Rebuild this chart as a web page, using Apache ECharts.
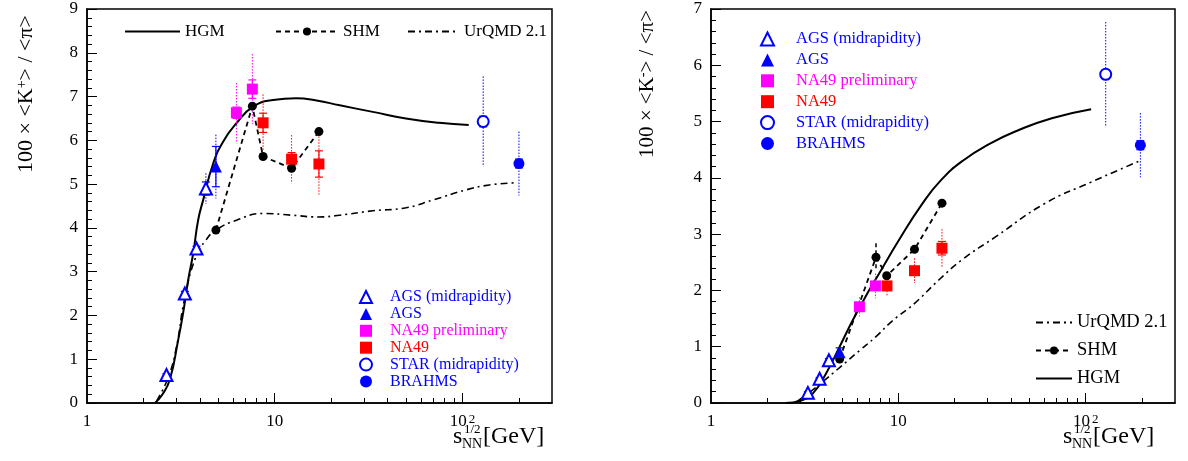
<!DOCTYPE html>
<html><head><meta charset="utf-8">
<script src="https://cdn.jsdelivr.net/npm/echarts@6/dist/echarts.min.js"></script>
<style>html,body{margin:0;padding:0;background:#fff}#c{width:1188px;height:461px}</style>
</head><body><div id="c"></div>
<script>
const FONT = '"Liberation Serif","Times New Roman",serif';

// ---- axis ticks (sqrt(s_NN) in GeV) ----
const xMajorTicks = [10, 100];
const xMinorTicks = [2, 3, 4, 5, 6, 7, 8, 9, 20, 30, 40, 50, 60, 70, 80, 90, 200];
const xLabelValues = [1, 10, 100];

// ---- left panel: 100 x <K+>/<pi> ; rows = [sqrt(s), value, err (solid, capped), sys (dotted)] ----
const kpAgsMid     = [[2.65, 0.64, 0.03, 0.06], [3.32, 2.50, 0.05, 0.10], [3.83, 3.53, 0.05, 0.12], [4.30, 4.90, 0.15, 0.35]];
const kpAgs        = [[4.86, 5.40, 0.46, 0.73]];
const kpNa49Prelim = [[6.25, 6.63, 0.13, 0.68], [7.60, 7.17, 0.21, 0.80]];
const kpNa49       = [[8.67, 6.40, 0.22, 0.65], [12.3, 5.57, 0.15, 0.55], [17.2, 5.46, 0.30, 0.70]];
const kpStar       = [[129, 6.43, 0.12, 1.03]];
const kpBrahms     = [[200, 5.47, 0.10, 0.73]];
const kpShmX = [4.86, 7.60, 8.67, 12.3, 17.2];
const kpShmY = [3.95, 6.78, 5.63, 5.36, 6.20];
const kpHgm = [[2.30, 0.00], [2.50, 0.17], [2.76, 0.53], [3.06, 1.44], [3.25, 2.05], [3.46, 2.81], [3.68, 3.42], [3.91, 4.18], [4.16, 4.64], [4.70, 5.47], [5.31, 5.97], [6.25, 6.39], [7.67, 6.77], [9.8, 6.92], [13.0, 6.96], [16.7, 6.91], [22.2, 6.80], [33.3, 6.65], [50, 6.50], [75, 6.40], [108, 6.35]];
const kpUrqmd = [[2.35, 0.05], [2.70, 0.57], [3.00, 1.29], [3.30, 2.35], [3.80, 3.34], [4.30, 3.72], [4.86, 3.95], [6.3, 4.18], [8.67, 4.33], [12.3, 4.29], [17, 4.25], [22.2, 4.29], [33.3, 4.39], [50, 4.46], [70, 4.64], [105, 4.87], [139, 4.98], [191, 5.03]];

// ---- right panel: 100 x <K->/<pi> ----
const kmAgsMid     = [[3.29, 0.18, 0.02, 0.03], [3.80, 0.43, 0.02, 0.03], [4.26, 0.76, 0.03, 0.05]];
const kmAgs        = [[4.86, 0.90, 0.08, 0.10]];
const kmNa49Prelim = [[6.20, 1.71, 0.03, 0.17], [7.55, 2.08, 0.03, 0.22]];
const kmNa49       = [[8.70, 2.08, 0.03, 0.18], [12.2, 2.35, 0.03, 0.22], [17.1, 2.75, 0.12, 0.34]];
const kmStar       = [[128, 5.84, 0.08, 0.93]];
const kmBrahms     = [[196, 4.58, 0.08, 0.57]];
const kmShmX = [4.86, 7.60, 8.67, 12.2, 17.1];
const kmShmY = [0.78, 2.59, 2.26, 2.73, 3.55];
const kmShmErr = [[7.60, 2.59, 0, 0.25]];
const kmHgm = [[2.50, 0.00], [3.00, 0.04], [3.50, 0.17], [4.12, 0.53], [4.86, 1.00], [5.71, 1.47], [7.01, 2.01], [7.93, 2.31], [10.1, 2.90], [13.5, 3.55], [16.9, 3.96], [22, 4.30], [30.5, 4.60], [44, 4.85], [66, 5.06], [107, 5.22]];
const kmUrqmd = [[2.86, 0.02], [3.3, 0.17], [3.8, 0.33], [4.86, 0.63], [6.2, 0.93], [7.6, 1.18], [9.3, 1.46], [12.3, 1.78], [16.5, 2.19], [22, 2.55], [33, 2.95], [61, 3.55], [108, 3.93], [191, 4.29]];

const BLUE = '#0000ff', MAG = '#ff00ff', RED = '#ff0000';

function errSeries(data, color, xi, yi, dashed) {
  return {
    type: 'custom', xAxisIndex: xi, yAxisIndex: yi, z: 3, silent: true,
    encode: { x: 0, y: 1 },
    data: data,
    renderItem: function (params, api) {
      const x = api.value(0), y = api.value(1), e1 = api.value(2), e2 = api.value(3);
      const t2 = api.coord([x, y + e2]), b2 = api.coord([x, y - e2]);
      const t1 = api.coord([x, y + e1]), b1 = api.coord([x, y - e1]);
      const ch = [];
      ch.push({ type: 'line', shape: { x1: t2[0], y1: t2[1], x2: b2[0], y2: b2[1] },
        style: { stroke: color, lineWidth: dashed ? 1.5 : 1, lineDash: dashed ? [4, 3] : [1.5, 1.5] } });
      if (e1 > 0) {
        const c = 4;
        ch.push({ type: 'line', shape: { x1: t1[0], y1: t1[1], x2: b1[0], y2: b1[1] }, style: { stroke: color, lineWidth: 1.2 } });
        ch.push({ type: 'line', shape: { x1: t1[0] - c, y1: t1[1], x2: t1[0] + c, y2: t1[1] }, style: { stroke: color, lineWidth: 1.2 } });
        ch.push({ type: 'line', shape: { x1: b1[0] - c, y1: b1[1], x2: b1[0] + c, y2: b1[1] }, style: { stroke: color, lineWidth: 1.2 } });
      }
      return { type: 'group', children: ch };
    }
  };
}
function pts(name, data, symbol, size, color, xi, yi) {
  return {
    name: name, type: 'scatter', xAxisIndex: xi, yAxisIndex: yi, z: 5,
    symbol: symbol, symbolSize: size,
    itemStyle: { color: color, borderWidth: 1.5, opacity: 1 },
    data: data.map(r => [r[0], r[1]])
  };
}
function zip(a, b) { return a.map((v, i) => [v, b[i]]); }

function panelSeries(d, xi, yi, sz) {
  const s = [];
  s.push(errSeries(d.agsMid, BLUE, xi, yi));
  s.push(errSeries(d.ags, BLUE, xi, yi));
  s.push(errSeries(d.na49p, MAG, xi, yi));
  s.push(errSeries(d.na49, RED, xi, yi));
  s.push(errSeries(d.star, BLUE, xi, yi));
  s.push(errSeries(d.brahms, BLUE, xi, yi));
  s.push({ name: 'HGM', type: 'line', xAxisIndex: xi, yAxisIndex: yi, z: 2, data: d.hgm, symbol: 'none', smooth: 0.5,
    lineStyle: { color: '#000', width: 2 }, itemStyle: { color: '#000' } });
  s.push({ name: 'UrQMD 2.1', type: 'line', xAxisIndex: xi, yAxisIndex: yi, z: 2, data: d.urqmd, symbol: 'none', smooth: 0.5,
    lineStyle: { color: '#000', width: 1.6, type: [7, 4, 2, 4] }, itemStyle: { color: '#000' } });
  s.push({ name: 'SHM', type: 'line', xAxisIndex: xi, yAxisIndex: yi, z: 4, data: d.shm, symbol: 'circle', symbolSize: 9, showSymbol: true,
    lineStyle: { color: '#000', width: 1.8, type: [5, 4] }, itemStyle: { color: '#000' } });
  if (d.shmErr) s.push(errSeries(d.shmErr, '#000', xi, yi, true));
  s.push(pts('AGS (midrapidity)', d.agsMid, 'emptyTriangle', sz.tri, BLUE, xi, yi));
  s.push(pts('AGS', d.ags, 'triangle', sz.tri, BLUE, xi, yi));
  s.push(pts('NA49 preliminary', d.na49p, 'rect', sz.sq, MAG, xi, yi));
  s.push(pts('NA49', d.na49, 'rect', sz.sq, RED, xi, yi));
  s.push(pts('STAR (midrapidity)', d.star, 'emptyCircle', sz.circ, BLUE, xi, yi));
  s.push(pts('BRAHMS', d.brahms, 'circle', sz.circ, BLUE, xi, yi));
  return s;
}

const series = [].concat(
  panelSeries({ agsMid: kpAgsMid, ags: kpAgs, na49p: kpNa49Prelim, na49: kpNa49, star: kpStar, brahms: kpBrahms,
    hgm: kpHgm, urqmd: kpUrqmd, shm: zip(kpShmX, kpShmY) }, 0, 0, { tri: 12, sq: 11, circ: 11 }),
  panelSeries({ agsMid: kmAgsMid, ags: kmAgs, na49p: kmNa49Prelim, na49: kmNa49, star: kmStar, brahms: kmBrahms,
    hgm: kmHgm, urqmd: kmUrqmd, shm: zip(kmShmX, kmShmY), shmErr: kmShmErr }, 2, 1, { tri: 12, sq: 11, circ: 11 })
);

function xAxes(gi) {
  return [{
    type: 'log', logBase: 10, min: 1, max: 300, gridIndex: gi, position: 'bottom',
    axisLine: { show: true, lineStyle: { color: '#000', width: 1.5 } },
    axisTick: { show: true, inside: true, length: 10, customValues: xMajorTicks, lineStyle: { color: '#000', width: 1 } },
    axisLabel: { show: true, customValues: xLabelValues, margin: 10, color: '#000', fontFamily: FONT, fontSize: 17,
      formatter: function (v) { return Math.abs(v - 100) < 1e-6 ? '{m|10}{s|2}' : '{m|' + Math.round(v) + '}'; },
      rich: { m: { fontSize: 17, fontFamily: FONT, color: '#000' }, s: { fontSize: 13, fontFamily: FONT, color: '#000', verticalAlign: 'top', padding: [0, 0, 0, 2] } } },
    splitLine: { show: false }
  }, {
    type: 'log', logBase: 10, min: 1, max: 300, gridIndex: gi, position: 'bottom',
    axisLine: { show: false },
    axisTick: { show: true, inside: true, length: 5, customValues: xMinorTicks, lineStyle: { color: '#000', width: 1 } },
    axisLabel: { show: false },
    splitLine: { show: false }
  }];
}
function yAxis(gi, max) {
  return {
    type: 'value', min: 0, max: max, interval: 1, gridIndex: gi,
    axisLine: { show: true, lineStyle: { color: '#000', width: 1.5 } },
    axisTick: { show: true, inside: true, length: 10, lineStyle: { color: '#000' } },
    minorTick: { show: true, splitNumber: 5, length: 5, lineStyle: { color: '#000' } },
    axisLabel: { margin: 9, color: '#000', fontFamily: FONT, fontSize: 17 },
    splitLine: { show: false }
  };
}

function lineLegend(name, left, top, w) {
  return { show: true, orient: 'horizontal', left: left, top: top, padding: 0, itemWidth: w, itemHeight: 10, selectedMode: false,
    textStyle: { fontFamily: FONT, fontSize: 17, color: '#000' },
    data: [{ name: name, itemStyle: name === 'SHM' ? {} : { opacity: 0 } }] };
}
function dataLegend(left, top, h, gap, fs, textPad) {
  const items = [['AGS (midrapidity)', BLUE], ['AGS', BLUE], ['NA49 preliminary', MAG], ['NA49', RED], ['STAR (midrapidity)', BLUE], ['BRAHMS', BLUE]];
  return { show: true, orient: 'vertical', left: left, top: top, padding: 0, itemWidth: h, itemHeight: h, itemGap: gap, selectedMode: false,
    symbolKeepAspect: true,
    textStyle: { fontFamily: FONT, fontSize: fs, lineHeight: h, padding: [0, 0, 0, textPad] },
    data: items.map(it => ({ name: it[0], textStyle: { color: it[1] } })) };
}

function xTitle(x0) {
  return [
    { type: 'text', x: x0, y: 437, style: { text: 's', fontFamily: FONT, fontSize: 24, fill: '#000', align: 'left', verticalAlign: 'middle' } },
    { type: 'text', x: x0 + 9, y: 444, style: { text: 'NN', fontFamily: FONT, fontSize: 14, fill: '#000', align: 'left', verticalAlign: 'middle' } },
    { type: 'text', x: x0 + 11, y: 430, style: { text: '1/2', fontFamily: FONT, fontSize: 13, fill: '#000', align: 'left', verticalAlign: 'middle' } },
    { type: 'text', x: x0 + 30, y: 437, style: { text: '[GeV]', fontFamily: FONT, fontSize: 24, fill: '#000', align: 'left', verticalAlign: 'middle' } }
  ];
}
function yTitle(x, y, sup, fs) {
  return { type: 'text', x: x, y: y, rotation: Math.PI / 2,
    style: { text: '{a|100 × <K}{s|' + sup + '}{a|> / <π>}', align: 'center', verticalAlign: 'middle', fill: '#000',
      rich: { a: { fontFamily: FONT, fontSize: fs, color: '#000' }, s: { fontFamily: FONT, fontSize: 14, color: '#000', verticalAlign: 'top' } } } };
}

const option = {
  animation: false,
  backgroundColor: '#fff',
  grid: [
    { left: 87, top: 9, width: 465, height: 394, show: true, borderColor: '#000', borderWidth: 1.5, backgroundColor: 'transparent' },
    { left: 711, top: 9, width: 464, height: 394, show: true, borderColor: '#000', borderWidth: 1.5, backgroundColor: 'transparent' }
  ],
  xAxis: [].concat(xAxes(0), xAxes(1)),
  yAxis: [yAxis(0, 9), yAxis(1, 7)],
  legend: [
    lineLegend('HGM', 124, 23, 55),
    lineLegend('SHM', 275, 23, 62),
    lineLegend('UrQMD 2.1', 407, 23, 51),
    dataLegend(359, 289, 12, 0.9, 16, 13),
    dataLegend(760, 30.5, 13, 3.9, 16.5, 17),
    { show: true, orient: 'vertical', left: 1035, top: 313, padding: 0, itemWidth: 36, itemHeight: 10, itemGap: 9, selectedMode: false,
      textStyle: { fontFamily: FONT, fontSize: 18.5, color: '#000' },
      data: [{ name: 'UrQMD 2.1', itemStyle: { opacity: 0 } }, { name: 'SHM' }, { name: 'HGM', itemStyle: { opacity: 0 } }] }
  ],
  graphic: [].concat(xTitle(453), xTitle(1063), [yTitle(26, 94, '+', 22), yTitle(647, 84, '-', 21)]),
  series: series
};
const chart = echarts.init(document.getElementById('c'), null, { renderer: 'canvas' });
chart.setOption(option);
</script>
</body></html>
